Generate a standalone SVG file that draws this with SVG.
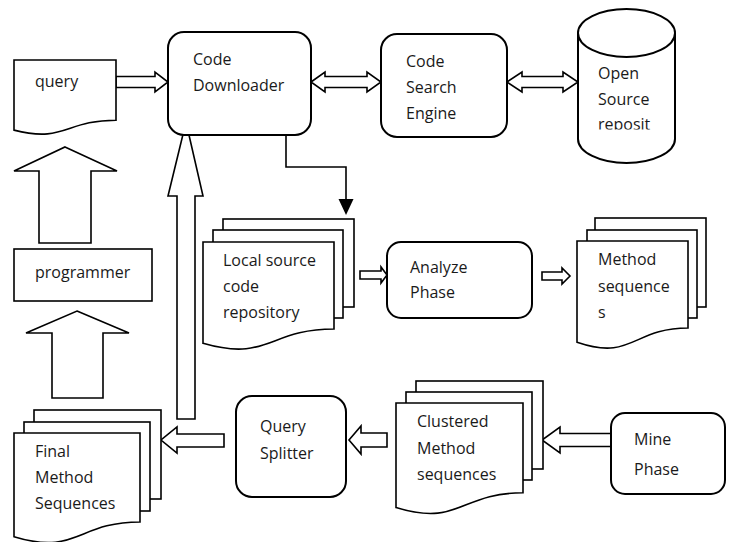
<svg xmlns="http://www.w3.org/2000/svg" width="731" height="542" viewBox="0 0 731 542">
  <defs>
    <style>
      .shape { fill: #ffffff; stroke: #000000; stroke-width: 1.6; stroke-linejoin: miter; }
      .box { fill: #ffffff; stroke: #000000; stroke-width: 2; }
      .wire { fill: none; stroke: #000000; stroke-width: 1.6; }
      .head { fill: #000000; stroke: none; }
      .label { font-family: "Open Sans", "Noto Sans", "Liberation Sans", sans-serif; font-size: 16px; fill: #1a1a1a; }
    </style>
    <clipPath id="cylClip">
      <rect x="580" y="40" width="94" height="89.5"/>
    </clipPath>
  </defs>

  <rect x="0" y="0" width="731" height="542" fill="#ffffff"/>

  <!-- connectors: block arrows and the downloader-to-repository line -->
  <g id="connectors">
    <!-- query -> Code Downloader -->
    <polygon class="shape" points="116,76.5 155,76.5 155,72 168,82 155,92 155,87.5 116,87.5"/>
    <!-- Code Downloader <-> Code Search Engine -->
    <polygon class="shape" points="311,82 325,72 325,76.5 367,76.5 367,72 381,82 367,92 367,87.5 325,87.5 325,92"/>
    <!-- Code Search Engine <-> Open Source repository -->
    <polygon class="shape" points="507,82 522,72 522,76.5 563,76.5 563,72 578,82 563,92 563,87.5 522,87.5 522,92"/>
    <!-- programmer -> query -->
    <polygon class="shape" points="65,147 117,171 91,171 91,243 39,243 39,171 14,171"/>
    <!-- Final Method Sequences -> programmer -->
    <polygon class="shape" points="77,311 129,333 103,333 103,398 52,398 52,333 26,333"/>
    <!-- Final Method Sequences -> Code Downloader -->
    <polygon class="shape" points="186,122 203,196 195,196 195,419 177,419 177,196 168,196"/>
    <!-- Code Downloader -> Local source code repository -->
    <path class="wire" d="M286,119 V167 H346 V200"/>
    <polygon class="head" points="338.5,199 353.5,199 346,215"/>
    <!-- Local source -> Analyze Phase -->
    <polygon class="shape" points="360,271 381,271 381,267 387,275 381,283 381,279 360,279"/>
    <!-- Analyze Phase -> Method sequences -->
    <polygon class="shape" points="542,272 562,272 562,268 570,276 562,284 562,280 542,280"/>
    <!-- Mine Phase -> Clustered -->
    <polygon class="shape" points="611,433.5 560,433.5 560,427 542,440 560,453 560,446.5 611,446.5"/>
    <!-- Clustered -> Query Splitter -->
    <polygon class="shape" points="387,433 361,433 361,426 349,440 361,454 361,447 387,447"/>
    <!-- Query Splitter -> Final Method Sequences -->
    <polygon class="shape" points="224,434 177,434 177,427 161,440 177,453 177,447 224,447"/>
  </g>

  <g id="query">
    <path class="shape" d="M14,60 H116 V120.2 C65,120.2 65,143.1 14,130.1 Z"/>
    <text class="label" x="35" y="87">query</text>
  </g>

  <g id="code-downloader">
    <rect class="box" x="168" y="32" width="143" height="103" rx="16"/>
    <text class="label" x="193" y="65">Code</text>
    <text class="label" x="193" y="91">Downloader</text>
  </g>

  <g id="code-search-engine">
    <rect class="box" x="381" y="34" width="126" height="103" rx="16"/>
    <text class="label" x="406" y="67">Code</text>
    <text class="label" x="406" y="93">Search</text>
    <text class="label" x="406" y="119">Engine</text>
  </g>

  <g id="open-source-repository">
    <path class="box" d="M578,33 V139 A48.5,24 0 0 0 675,139 V33"/>
    <ellipse class="box" cx="626.5" cy="33" rx="48.5" ry="24"/>
    <text class="label" x="598" y="79">Open</text>
    <text class="label" x="598" y="105">Source</text>
    <text class="label" x="598" y="130" clip-path="url(#cylClip)">reposit</text>
  </g>

  <g id="programmer">
    <rect class="shape" x="14" y="249" width="138" height="52"/>
    <text class="label" x="35" y="278">programmer</text>
  </g>

  <g id="local-source-code-repository">
    <rect class="shape" x="223" y="219" width="131" height="88"/>
    <rect class="shape" x="213" y="230" width="130" height="88"/>
    <path class="shape" d="M203,242 H334 V329 C268.5,329 268.5,362.2 203,343.3 Z"/>
    <text class="label" x="223" y="266">Local source</text>
    <text class="label" x="223" y="292">code</text>
    <text class="label" x="223" y="318">repository</text>
  </g>

  <g id="analyze-phase">
    <rect class="box" x="387" y="242" width="145" height="76" rx="14"/>
    <text class="label" x="410" y="273">Analyze</text>
    <text class="label" x="410" y="298">Phase</text>
  </g>

  <g id="method-sequences">
    <rect class="shape" x="595" y="218" width="111" height="89"/>
    <rect class="shape" x="587" y="230" width="110" height="88"/>
    <path class="shape" d="M577,241 H688 V328 C632.5,328 632.5,361.2 577,342.3 Z"/>
    <text class="label" x="598" y="265">Method</text>
    <text class="label" x="598" y="292">sequence</text>
    <text class="label" x="598" y="318">s</text>
  </g>

  <g id="mine-phase">
    <rect class="box" x="611" y="413" width="114" height="81" rx="14"/>
    <text class="label" x="634" y="445">Mine</text>
    <text class="label" x="634" y="475">Phase</text>
  </g>

  <g id="clustered-method-sequences">
    <rect class="shape" x="416" y="381" width="127" height="88"/>
    <rect class="shape" x="406" y="392" width="126" height="88"/>
    <path class="shape" d="M396,403 H523 V492.8 C459.5,492.8 459.5,527 396,507.6 Z"/>
    <text class="label" x="417" y="427">Clustered</text>
    <text class="label" x="417" y="454">Method</text>
    <text class="label" x="417" y="480">sequences</text>
  </g>

  <g id="query-splitter">
    <rect class="box" x="236" y="396" width="110" height="101" rx="16"/>
    <text class="label" x="260" y="432">Query</text>
    <text class="label" x="260" y="459">Splitter</text>
  </g>

  <g id="final-method-sequences">
    <rect class="shape" x="34" y="410" width="127" height="89"/>
    <rect class="shape" x="24" y="422" width="126" height="89"/>
    <path class="shape" d="M14,433 H140 V522 C77,522 77,555.9 14,536.7 Z"/>
    <text class="label" x="35" y="457">Final</text>
    <text class="label" x="35" y="483">Method</text>
    <text class="label" x="35" y="509">Sequences</text>
  </g>
</svg>
